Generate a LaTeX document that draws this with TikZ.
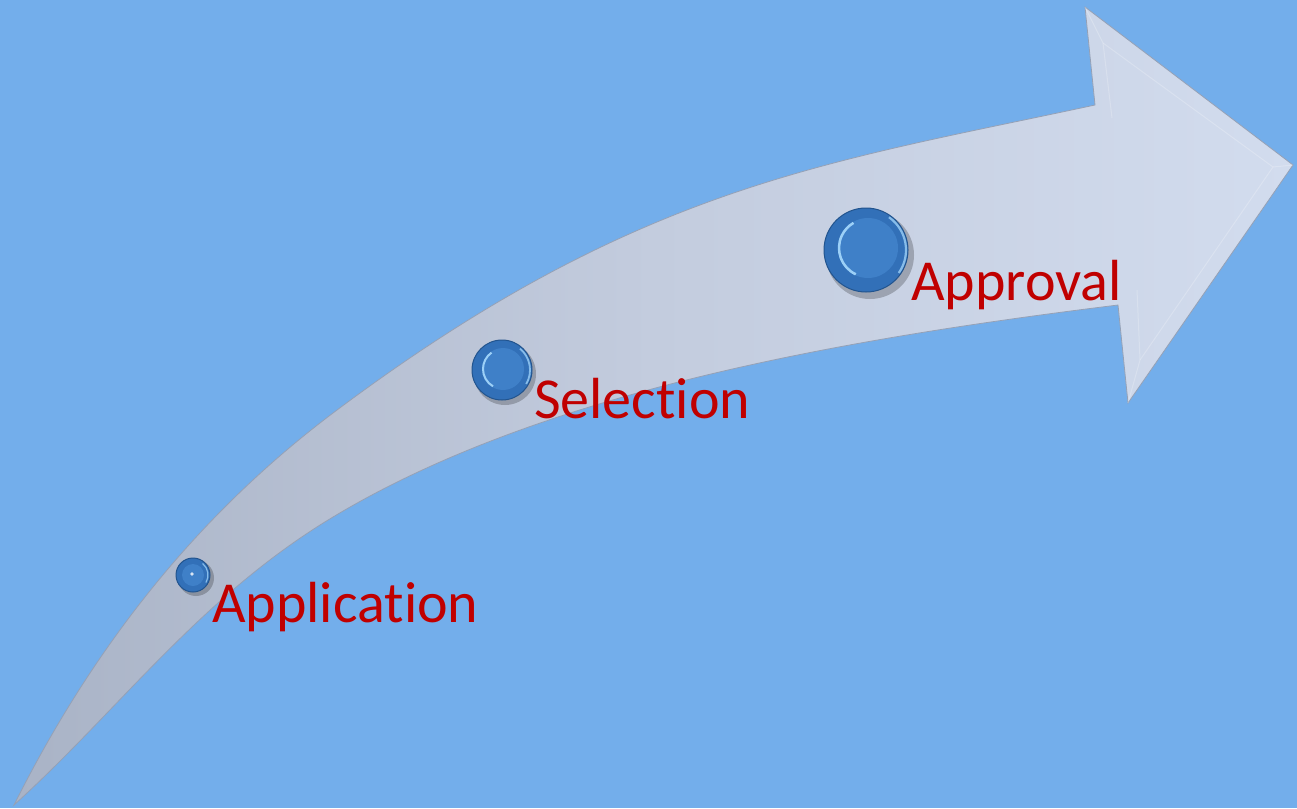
\documentclass[tikz,border=0pt]{standalone}
\usepackage{fontspec}
\setmainfont{Carlito}[Ligatures=NoCommon]
\usetikzlibrary{calc}
\definecolor{bg}{HTML}{73AEEB}
\definecolor{arrowA}{HTML}{A9B3C6}
\definecolor{arrowB}{HTML}{C3CCDE}
\definecolor{arrowC}{HTML}{D2DCEE}
\definecolor{arrowEdge}{HTML}{95A1B6}
\definecolor{btnOuter}{HTML}{3270B8}
\definecolor{btnEdge}{HTML}{22548E}
\definecolor{btnInner}{HTML}{3F80C8}
\definecolor{btnHi}{HTML}{9CD0F7}
\definecolor{lbl}{HTML}{C00000}
\tikzset{
  label text/.style={text=lbl, font=\fontsize{58}{62}\selectfont, inner sep=0pt, anchor=base west},
  button/.style={circle, inner sep=0pt, minimum size=#1, fill=btnOuter, draw=btnEdge, line width=1pt},
  bevel/.style={white, opacity=0.22, line width=1pt}
}
\begin{document}
\begin{tikzpicture}[x=1pt,y=-1pt]
\useasboundingbox (0,0) rectangle (1297,808);
\fill[bg] (0,0) rectangle (1297,808);
% arrow body
\shade[left color=arrowA, right color=arrowC, middle color=arrowB, draw=arrowEdge, line width=0.8pt]
  (14,805) .. controls (97,639) and (203,511) .. (333,413)
  .. controls (637,185) and (826,163) .. (1095,105)
  -- (1085,7) -- (1293,165) -- (1128,403) -- (1118,305)
  .. controls (851,338) and (546,389) .. (333,517)
  .. controls (200,597) and (120,709) .. (14,805)
  -- cycle;
% head bevel
\draw[bevel] (1085,7) -- (1103,43) -- (1273,167) -- (1140,360) -- (1128,403);
\draw[bevel] (1103,43) -- (1112,118);
\draw[bevel] (1293,165) -- (1273,167);
\draw[bevel] (1140,360) -- (1137,290);
% shadows of buttons
\fill[black, opacity=0.22] (196,578) circle (18);
\fill[black, opacity=0.22] (505,374) circle (31);
\fill[black, opacity=0.22] (870,255) circle (44);
% buttons
\node[button=34pt] (b1) at (193,575) {};
\node[button=60pt] (b2) at (502,370) {};
\node[button=84pt] (b3) at (866,250) {};
% button details
\fill[btnInner] ($(b2)+(1,-1)$) circle (21);
\draw[btnHi, line width=2pt] ($(b2)+(1,-1)$) ++(120:20) arc (120:235:20);
\draw[btnHi, opacity=0.8, line width=1.8pt] (b2) ++(-50:28) arc (-50:30:28);
\fill[btnInner] ($(b3)+(2,-2)$) circle (30);
\draw[btnHi, line width=2.5pt] ($(b3)+(2,-2)$) ++(115:29) arc (115:240:29);
\draw[btnHi, opacity=0.8, line width=2.2pt] (b3) ++(-55:40) arc (-55:35:40);
\fill[btnInner] (b1) circle (11);
\draw[btnHi, opacity=0.8, line width=1.2pt] (b1) ++(-50:15) arc (-50:30:15);
\fill[white, opacity=0.8] ($(b1)+(-1,-1)$) circle (1.8);
% labels
\node[label text] (t1) at (212,622) {Application};
\node[label text] (t2) at (534,418) {Selection};
\node[label text] (t3) at (911,300) {Approval};
\end{tikzpicture}
\end{document}
